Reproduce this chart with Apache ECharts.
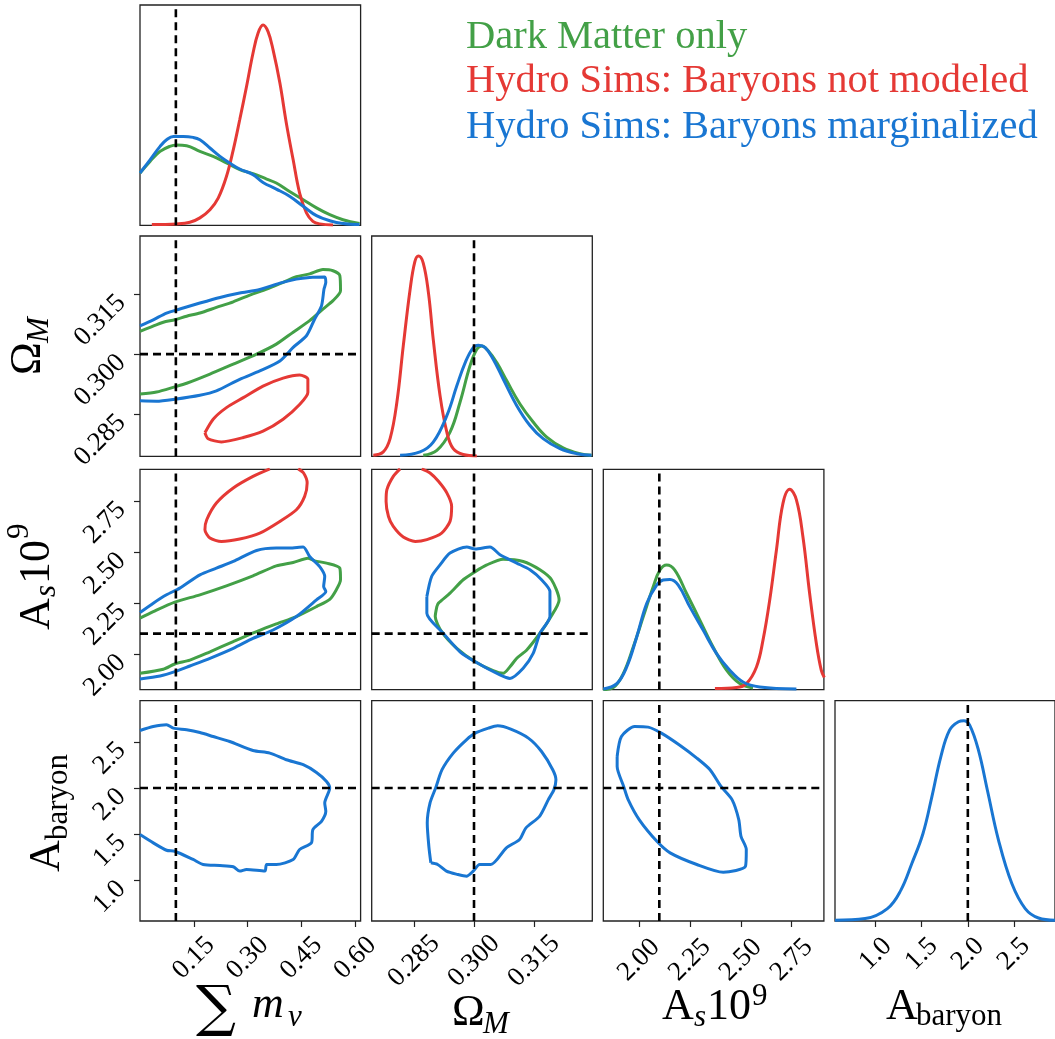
<!DOCTYPE html>
<html><head><meta charset="utf-8">
<script src="https://cdn.jsdelivr.net/npm/echarts@6/dist/echarts.min.js"></script>
<style>html,body{margin:0;padding:0;background:#fff}#c{width:1055px;height:1039px}</style>
</head><body><div id="c"></div><script>
// ---------- axis ranges, ticks, truth values ----------
const range_mnu = [0.0, 0.615];
const range_om = [0.2744, 0.3296];
const range_as = [1.825, 2.908];
const range_ab = [0.56, 2.945];
const ticks_mnu = [0.15, 0.30, 0.45, 0.60];
const ticks_om = [0.285, 0.300, 0.315];
const ticks_as = [2.00, 2.25, 2.50, 2.75];
const ticks_ab = [1.0, 1.5, 2.0, 2.5];
const tick_decimals = [2, 3, 2, 1];
const truths = [0.1, 0.3, 2.1, 2.0];
const legend_labels = ['Dark Matter only', 'Hydro Sims: Baryons not modeled', 'Hydro Sims: Baryons marginalized'];

// ---------- 1D marginals (peak of tallest = 1) ----------
const pdf_mnu_green = [[0,0.261],[0.028,0.319],[0.056,0.369],[0.083,0.394],[0.102,0.401],[0.130,0.397],[0.167,0.369],[0.204,0.344],[0.241,0.311],[0.278,0.278],[0.315,0.258],[0.353,0.231],[0.380,0.211],[0.417,0.169],[0.455,0.128],[0.492,0.087],[0.529,0.053],[0.566,0.028],[0.612,0.009]];
const pdf_mnu_red = [[0.033,0.004],[0.102,0.007],[0.139,0.015],[0.167,0.037],[0.195,0.078],[0.218,0.136],[0.241,0.244],[0.260,0.377],[0.278,0.527],[0.297,0.693],[0.315,0.859],[0.329,0.959],[0.343,1.0],[0.357,0.967],[0.371,0.876],[0.390,0.710],[0.408,0.510],[0.427,0.327],[0.445,0.161],[0.464,0.062],[0.482,0.020],[0.501,0.007],[0.538,0.002]];
const pdf_mnu_blue = [[0,0.261],[0.028,0.327],[0.056,0.394],[0.074,0.427],[0.093,0.444],[0.121,0.444],[0.148,0.439],[0.167,0.427],[0.195,0.386],[0.223,0.344],[0.250,0.311],[0.278,0.281],[0.315,0.253],[0.343,0.214],[0.380,0.181],[0.417,0.145],[0.455,0.095],[0.492,0.048],[0.529,0.023],[0.566,0.009],[0.612,0.004]];

const pdf_om_green = [[0.2873,0.005],[0.2907,0.030],[0.2940,0.121],[0.2965,0.270],[0.2990,0.452],[0.3007,0.534],[0.3019,0.551],[0.3036,0.526],[0.3057,0.468],[0.3082,0.377],[0.3115,0.261],[0.3148,0.171],[0.3182,0.096],[0.3223,0.042],[0.3265,0.013],[0.3294,0.005]];
const pdf_om_red = [[0.2748,0.005],[0.2773,0.022],[0.2790,0.088],[0.2807,0.270],[0.2823,0.551],[0.2840,0.832],[0.2852,0.972],[0.2861,1.0],[0.2873,0.965],[0.2886,0.816],[0.2898,0.584],[0.2915,0.303],[0.2932,0.121],[0.2948,0.038],[0.2973,0.009],[0.3007,0.002]];
const pdf_om_blue = [[0.2815,0.005],[0.2865,0.022],[0.2898,0.071],[0.2932,0.203],[0.2957,0.352],[0.2978,0.468],[0.2998,0.543],[0.3011,0.554],[0.3028,0.543],[0.3048,0.485],[0.3073,0.386],[0.3107,0.253],[0.3140,0.154],[0.3173,0.088],[0.3215,0.038],[0.3257,0.013],[0.3294,0.005]];

const pdf_as_green = [[1.825,0.0],[1.874,0.010],[1.923,0.080],[1.972,0.213],[2.021,0.363],[2.070,0.513],[2.103,0.597],[2.136,0.622],[2.176,0.597],[2.234,0.480],[2.299,0.347],[2.364,0.213],[2.430,0.097],[2.495,0.030],[2.560,0.008]];
const pdf_as_red = [[2.373,0.005],[2.479,0.010],[2.528,0.030],[2.577,0.113],[2.609,0.247],[2.642,0.447],[2.675,0.697],[2.707,0.930],[2.740,1.0],[2.773,0.947],[2.805,0.763],[2.838,0.480],[2.871,0.230],[2.895,0.097],[2.910,0.060]];
const pdf_as_blue = [[1.825,0.003],[1.891,0.030],[1.940,0.113],[1.989,0.263],[2.038,0.430],[2.087,0.522],[2.119,0.547],[2.152,0.550],[2.193,0.522],[2.250,0.413],[2.315,0.297],[2.381,0.180],[2.446,0.097],[2.511,0.038],[2.593,0.013],[2.773,0.003]];

const pdf_ab_blue = [[0.560,0.004],[0.887,0.012],[1.128,0.062],[1.273,0.153],[1.393,0.287],[1.514,0.437],[1.610,0.620],[1.707,0.820],[1.802,0.953],[1.899,0.995],[1.957,1.0],[2.020,0.978],[2.115,0.853],[2.212,0.653],[2.333,0.403],[2.477,0.187],[2.622,0.062],[2.766,0.015],[2.949,0.004]];

// ---------- 2D contours ----------
const ct_mnu_om_green = [[0,0.3057],[0.028,0.3067],[0.065,0.3080],[0.097,0.3086],[0.130,0.3095],[0.167,0.3103],[0.213,0.3117],[0.260,0.3131],[0.306,0.3148],[0.353,0.3163],[0.399,0.3180],[0.436,0.3194],[0.473,0.3201],[0.510,0.3212],[0.538,0.3209],[0.557,0.3197],[0.559,0.3159],[0.538,0.3134],[0.510,0.3113],[0.473,0.3084],[0.427,0.3055],[0.380,0.3025],[0.325,0.3000],[0.260,0.2975],[0.195,0.2950],[0.130,0.2927],[0.097,0.2918],[0.046,0.2905],[0,0.2900]];
const ct_mnu_om_red = [[0.181,0.2803],[0.204,0.2837],[0.241,0.2866],[0.288,0.2891],[0.343,0.2920],[0.399,0.2940],[0.445,0.2948],[0.468,0.2937],[0.468,0.2904],[0.445,0.2874],[0.399,0.2837],[0.343,0.2807],[0.288,0.2791],[0.227,0.2780],[0.190,0.2788],[0.181,0.2803]];
const ct_mnu_om_blue = [[0,0.3071],[0.037,0.3086],[0.074,0.3103],[0.111,0.3113],[0.167,0.3128],[0.223,0.3142],[0.278,0.3153],[0.334,0.3162],[0.390,0.3178],[0.436,0.3188],[0.473,0.3192],[0.515,0.3193],[0.518,0.3180],[0.513,0.3163],[0.506,0.3121],[0.487,0.3088],[0.464,0.3046],[0.427,0.3017],[0.390,0.2983],[0.334,0.2958],[0.278,0.2937],[0.213,0.2908],[0.167,0.2897],[0.097,0.2887],[0.046,0.2882],[0,0.2883]];

const ct_mnu_as_green = [[0,2.176],[0.037,2.208],[0.097,2.255],[0.167,2.291],[0.241,2.335],[0.315,2.384],[0.380,2.433],[0.427,2.450],[0.468,2.471],[0.487,2.458],[0.520,2.447],[0.557,2.422],[0.559,2.365],[0.547,2.315],[0.529,2.269],[0.492,2.233],[0.436,2.184],[0.380,2.148],[0.325,2.110],[0.260,2.061],[0.195,2.011],[0.139,1.970],[0.097,1.951],[0.065,1.925],[0,1.905]];
const ct_mnu_as_red = [[0.362,2.91],[0.315,2.873],[0.260,2.816],[0.213,2.742],[0.186,2.660],[0.181,2.611],[0.195,2.570],[0.227,2.553],[0.278,2.565],[0.334,2.594],[0.390,2.652],[0.436,2.709],[0.459,2.775],[0.466,2.841],[0.456,2.890],[0.441,2.91]];
const ct_mnu_as_blue = [[0,2.204],[0.037,2.250],[0.074,2.291],[0.111,2.324],[0.167,2.389],[0.213,2.422],[0.260,2.455],[0.325,2.509],[0.380,2.521],[0.417,2.521],[0.455,2.526],[0.473,2.479],[0.501,2.430],[0.515,2.381],[0.512,2.332],[0.518,2.307],[0.492,2.266],[0.436,2.184],[0.371,2.118],[0.315,2.077],[0.260,2.028],[0.195,1.979],[0.139,1.941],[0.097,1.913],[0.056,1.892],[0,1.877]];

const ct_mnu_ab_blue = [[0,2.622],[0.037,2.665],[0.074,2.684],[0.093,2.648],[0.130,2.630],[0.167,2.600],[0.204,2.557],[0.250,2.503],[0.315,2.406],[0.362,2.378],[0.408,2.306],[0.455,2.252],[0.492,2.168],[0.520,2.071],[0.529,2.000],[0.515,1.838],[0.518,1.747],[0.506,1.639],[0.482,1.550],[0.478,1.406],[0.445,1.334],[0.427,1.226],[0.380,1.172],[0.353,1.172],[0.348,1.100],[0.297,1.118],[0.278,1.100],[0.260,1.147],[0.223,1.161],[0.176,1.172],[0.148,1.226],[0.097,1.315],[0.074,1.326],[0.037,1.406],[0,1.496]];

const ct_om_as_green = [[0.2907,2.233],[0.2911,2.250],[0.2940,2.299],[0.2973,2.365],[0.3003,2.405],[0.3032,2.438],[0.3073,2.466],[0.3123,2.455],[0.3165,2.414],[0.3194,2.365],[0.3213,2.266],[0.3190,2.176],[0.3165,2.102],[0.3132,2.020],[0.3107,1.979],[0.3090,1.937],[0.3073,1.905],[0.3048,1.918],[0.3003,1.962],[0.2957,2.028],[0.2919,2.110],[0.2903,2.184],[0.2907,2.233]];
const ct_om_as_red = [[0.2815,2.91],[0.2798,2.873],[0.2782,2.808],[0.2780,2.750],[0.2786,2.676],[0.2798,2.627],[0.2823,2.575],[0.2853,2.553],[0.2882,2.562],[0.2919,2.594],[0.2940,2.652],[0.2944,2.726],[0.2932,2.792],[0.2911,2.849],[0.2890,2.890],[0.2869,2.91]];
const ct_om_as_blue = [[0.2882,2.282],[0.2894,2.381],[0.2915,2.438],[0.2940,2.496],[0.2982,2.526],[0.3003,2.516],[0.3040,2.526],[0.3065,2.488],[0.3107,2.447],[0.3140,2.414],[0.3169,2.365],[0.3190,2.307],[0.3190,2.184],[0.3165,2.102],[0.3148,2.003],[0.3123,1.930],[0.3090,1.880],[0.3065,1.897],[0.3003,1.962],[0.2965,2.011],[0.2923,2.102],[0.2882,2.200],[0.2882,2.282]];

const ct_om_ab_blue = [[0.2892,1.190],[0.2887,1.369],[0.2883,1.622],[0.2890,1.838],[0.2904,2.000],[0.2920,2.198],[0.2948,2.378],[0.2981,2.522],[0.3003,2.594],[0.3036,2.648],[0.3059,2.673],[0.3092,2.637],[0.3136,2.540],[0.3169,2.395],[0.3197,2.198],[0.3205,2.090],[0.3200,1.982],[0.3186,1.874],[0.3164,1.693],[0.3130,1.568],[0.3114,1.442],[0.3081,1.352],[0.3042,1.172],[0.3014,1.172],[0.2998,1.100],[0.2981,1.045],[0.2959,1.064],[0.2931,1.100],[0.2909,1.172],[0.2892,1.190]];

const ct_as_ab_blue = [[1.893,2.341],[1.914,2.557],[1.979,2.665],[2.045,2.659],[2.110,2.594],[2.197,2.468],[2.284,2.324],[2.349,2.198],[2.403,2.017],[2.457,1.874],[2.490,1.658],[2.501,1.477],[2.527,1.334],[2.523,1.153],[2.414,1.088],[2.284,1.172],[2.153,1.298],[2.088,1.423],[2.001,1.658],[1.947,1.874],[1.925,2.017],[1.893,2.233],[1.893,2.341]];

// ---------- build ----------
const COL = {dm: '#43a047', nb: '#e53935', mb: '#1976d2'};
const FONT = 'Liberation Serif';
const ranges = [range_mnu, range_om, range_as, range_ab];
const ticks = [ticks_mnu, ticks_om, ticks_as, ticks_ab];
const colLeft = [140, 371.7, 603.3, 835];
const rowTop = [5, 236, 469.3, 700.7];
const PW = 220.6, PH = 220.3;
const xLabelMargin = [37, 40, 39, 33];
const TICKFS = 27;

const curves = {
  '0,0': [[pdf_mnu_green,'dm'],[pdf_mnu_red,'nb'],[pdf_mnu_blue,'mb']],
  '1,1': [[pdf_om_green,'dm'],[pdf_om_red,'nb'],[pdf_om_blue,'mb']],
  '2,2': [[pdf_as_green,'dm'],[pdf_as_red,'nb'],[pdf_as_blue,'mb']],
  '3,3': [[pdf_ab_blue,'mb']],
  '1,0': [[ct_mnu_om_green,'dm'],[ct_mnu_om_red,'nb'],[ct_mnu_om_blue,'mb']],
  '2,0': [[ct_mnu_as_green,'dm'],[ct_mnu_as_red,'nb'],[ct_mnu_as_blue,'mb']],
  '3,0': [[ct_mnu_ab_blue,'mb']],
  '2,1': [[ct_om_as_green,'dm'],[ct_om_as_red,'nb'],[ct_om_as_blue,'mb']],
  '3,1': [[ct_om_ab_blue,'mb']],
  '3,2': [[ct_as_ab_blue,'mb']]
};

const grids = [], xAxes = [], yAxes = [], series = [];
let k = 0;
for (let r = 0; r < 4; r++) {
  for (let c = 0; c <= r; c++) {
    grids.push({left: colLeft[c], top: rowTop[r], width: PW, height: PH, show: true,
      borderColor: '#222', borderWidth: 1.3, backgroundColor: 'transparent'});
    xAxes.push({type: 'value', gridIndex: k, min: ranges[c][0], max: ranges[c][1],
      axisLine: {show: false}, splitLine: {show: false},
      axisTick: {show: r === 3, length: 6, customValues: ticks[c], lineStyle: {color: '#222', width: 1.2}},
      axisLabel: {show: r === 3, customValues: ticks[c], formatter: (v) => Number(v).toFixed(tick_decimals[c]),
        rotate: 45, align: 'center', verticalAlign: 'middle', margin: xLabelMargin[c],
        fontSize: TICKFS, fontFamily: FONT, color: '#000'}});
    let ymin, ymax;
    if (r === c) {
      ymin = 0; ymax = 1.1;
      yAxes.push({type: 'value', gridIndex: k, min: 0, max: 1.1, show: false, splitLine: {show: false}});
    } else {
      ymin = ranges[r][0]; ymax = ranges[r][1];
      yAxes.push({type: 'value', gridIndex: k, min: ymin, max: ymax,
        axisLine: {show: false}, splitLine: {show: false},
        axisTick: {show: c === 0, length: 6, customValues: ticks[r], lineStyle: {color: '#222', width: 1.2}},
        axisLabel: {show: c === 0, customValues: ticks[r], formatter: (v) => Number(v).toFixed(tick_decimals[r]),
          rotate: 45, align: 'right', verticalAlign: 'top', lineHeight: 13, margin: 23,
          fontSize: TICKFS, fontFamily: FONT, color: '#000'}});
    }
    (curves[r + ',' + c] || []).forEach(([data, key]) => {
      series.push({type: 'line', xAxisIndex: k, yAxisIndex: k, data: data, symbol: 'none', showSymbol: false,
        smooth: r === c ? 0.4 : 0.25, clip: true, silent: true, z: 3,
        lineStyle: {color: COL[key], width: 3}, emphasis: {disabled: true}});
    });
    // truth lines
    const dash = {color: '#000', width: 2.6, type: [8, 5]};
    series.push({type: 'line', xAxisIndex: k, yAxisIndex: k, symbol: 'none', silent: true, z: 4, clip: true,
      data: [[truths[c], ymin], [truths[c], ymax]], lineStyle: dash});
    if (r !== c) {
      series.push({type: 'line', xAxisIndex: k, yAxisIndex: k, symbol: 'none', silent: true, z: 4, clip: true,
        data: [[ranges[c][0], truths[r]], [ranges[c][1], truths[r]]], lineStyle: dash});
    }
    k++;
  }
}

function T(x, y, text, fs, o) {
  o = o || {};
  const font = (o.italic ? 'italic ' : '') + fs + 'px "' + (o.family || FONT) + '"';
  return {type: 'text', x: x, y: y, silent: true,
    style: {text: text, font: font, fill: o.color || '#000',
      align: 'left', verticalAlign: 'middle', textAlign: 'left', textVerticalAlign: 'middle'}};
}
const BIG = 44, SUB = 31;
const mid = (base, fs) => base - 0.34 * fs;
const graphics = [
  // legend
  T(466, mid(50.7, 40.5), legend_labels[0], 40.5, {color: COL.dm}),
  T(466, mid(95, 40.5), legend_labels[1], 40.5, {color: COL.nb}),
  T(466, mid(140.7, 40.5), legend_labels[2], 40.5, {color: COL.mb}),
  // bottom axis titles
  T(196, 1010, '\u2211', 56, {family: 'DejaVu Serif'}),
  T(252, mid(1020, BIG), 'm', BIG, {italic: true}),
  T(288, mid(1028, SUB), '\u03BD', SUB, {italic: true}),
  T(452, mid(1028, BIG), '\u03A9', BIG),
  T(483, mid(1035, SUB), 'M', SUB, {italic: true}),
  T(662, mid(1022, BIG), 'A', BIG),
  T(694, mid(1028, SUB), 's', SUB, {italic: true}),
  T(707, mid(1022, BIG), '10', BIG),
  T(752, mid(1007, SUB), '9', SUB),
  T(886, mid(1022, BIG), 'A', BIG),
  T(916, mid(1027, SUB), 'baryon', SUB),
  // left axis titles (rotated)
  {type: 'group', x: 0, y: 400, rotation: Math.PI / 2, children: [
    T(25, mid(43, BIG), '\u03A9', BIG),
    T(57, mid(50, SUB), 'M', SUB, {italic: true})
  ]},
  {type: 'group', x: 0, y: 650, rotation: Math.PI / 2, children: [
    T(20, mid(52, BIG), 'A', BIG),
    T(53, mid(57, SUB), 's', SUB, {italic: true}),
    T(66, mid(52, BIG), '10', BIG),
    T(111, mid(30, SUB), '9', SUB)
  ]},
  {type: 'group', x: 0, y: 890, rotation: Math.PI / 2, children: [
    T(18, mid(62, BIG), 'A', BIG),
    T(50, mid(69, SUB), 'baryon', SUB)
  ]}
];

const chart = echarts.init(document.getElementById('c'), null, {renderer: 'canvas'});
chart.setOption({
  animation: false,
  backgroundColor: '#fff',
  grid: grids, xAxis: xAxes, yAxis: yAxes, series: series,
  graphic: graphics
});
</script></body></html>
